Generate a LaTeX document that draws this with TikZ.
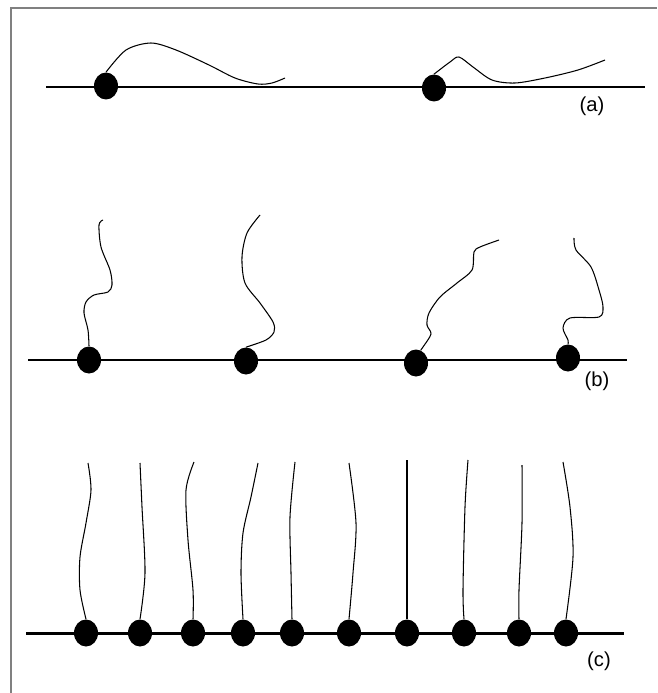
\documentclass[tikz,border=0pt]{standalone}
\usepackage{fontspec}
\setmainfont{Liberation Sans}
\usetikzlibrary{shapes.geometric}

\tikzset{
	rail/.style={line width=1.7pt},
	chain/.style={line width=0.6pt},
	bead/.style={shape=ellipse, fill=black, draw=none, inner sep=0pt, minimum width=0.48cm, minimum height=0.54cm},
	tag/.style={font=\fontsize{11.5}{13}\selectfont, inner sep=1pt}
}

\begin{document}
\begin{tikzpicture}[x=0.02cm, y=-0.02cm]
	\useasboundingbox (0,0) rectangle (657,693);
	% Frame:
	\draw[line width=1.1pt, gray] (11,693) -- (11,8) -- (657,8);

	% (a) two chains lying flat:
	\coordinate (aL) at (46,87);
	\coordinate (aR) at (645,87);
	\draw[rail] (aL) -- (aR);
	\node[bead] (a1) at (106,86){};
	\node[bead] (a2) at (434,88){};
	\draw[chain] plot[smooth] coordinates {(a1.north) (126,50) (151,43) (176,50) (209,65) (235,78) (258,84) (272,83) (285,78)};
	\draw[chain] plot[smooth] coordinates {(a2.north) (450,62) (459,57) (473,67) (492,80) (515,83) (545,78) (578,70) (605,60)};
	\node[tag] (la) at (592,106){(a)};

	% (b) four chains standing loosely:
	\coordinate (bL) at (28,360);
	\coordinate (bR) at (627,360);
	\draw[rail] (bL) -- (bR);
	\node[bead] (b1) at (89,360){};
	\node[bead] (b2) at (246,361){};
	\node[bead] (b3) at (416,363){};
	\node[bead] (b4) at (568,358){};
	\draw[chain] plot[smooth] coordinates {(b1.north) (88,330) (84,313) (86,302) (94,295) (108,292) (112,285) (110,270) (101,247) (99,225) (103,220)};
	\draw[chain] plot[smooth] coordinates {(b2.north) (266,340) (274,332) (273,322) (260,303) (245,283) (242,257) (247,233) (260,215)};
	\draw[chain] plot[smooth] coordinates {(b3.70) (423,347) (431,334) (427,325) (429,313) (440,297) (457,283) (472,270) (474,252) (480,247) (499,240)};
	\draw[chain] plot[smooth] coordinates {(b4.north) (568,340) (563,328) (570,318) (599,317) (603,307) (599,290) (591,267) (576,250) (574,238)};
	\node[tag] (lb) at (597,381){(b)};

	% (c) ten chains packed upright:
	\coordinate (cL) at (26,633);
	\coordinate (cR) at (624,633);
	\draw[rail] (cL) -- (cR);
	\node[bead] (c1) at (86,633){};
	\node[bead] (c2) at (140,633){};
	\node[bead] (c3) at (193,633){};
	\node[bead] (c4) at (243,633){};
	\node[bead] (c5) at (292,633){};
	\node[bead] (c6) at (349,633){};
	\node[bead] (c7) at (407,633){};
	\node[bead] (c8) at (464,633){};
	\node[bead] (c9) at (519,633){};
	\node[bead] (c10) at (566,633){};
	\draw[chain] plot[smooth] coordinates {(c1.north) (80,590) (80,557) (86,523) (91,490) (88,463)};
	\draw[chain] plot[smooth] coordinates {(c2.north) (145,573) (142,507) (140,463)};
	\draw[chain] plot[smooth] coordinates {(c3.north) (193,590) (188,540) (186,490) (194,462)};
	\draw[chain] plot[smooth] coordinates {(c4.north) (241,573) (243,533) (251,497) (258,463)};
	\draw[chain] plot[smooth] coordinates {(c5.north) (291,573) (290,517) (295,462)};
	\draw[chain] plot[smooth] coordinates {(c6.north) (353,573) (356,523) (349,463)};
	\draw[chain] (c7.north) -- (407,460);
	\draw[chain] plot[smooth] coordinates {(c8.north) (463,590) (465,507) (468,460)};
	\draw[chain] plot[smooth] coordinates {(c9.north) (519,590) (522,523) (522,465)};
	\draw[chain] plot[smooth] coordinates {(c10.north) (573,557) (570,507) (563,462)};
	\node[tag] (lc) at (599,661){(c)};
\end{tikzpicture}
\end{document}
